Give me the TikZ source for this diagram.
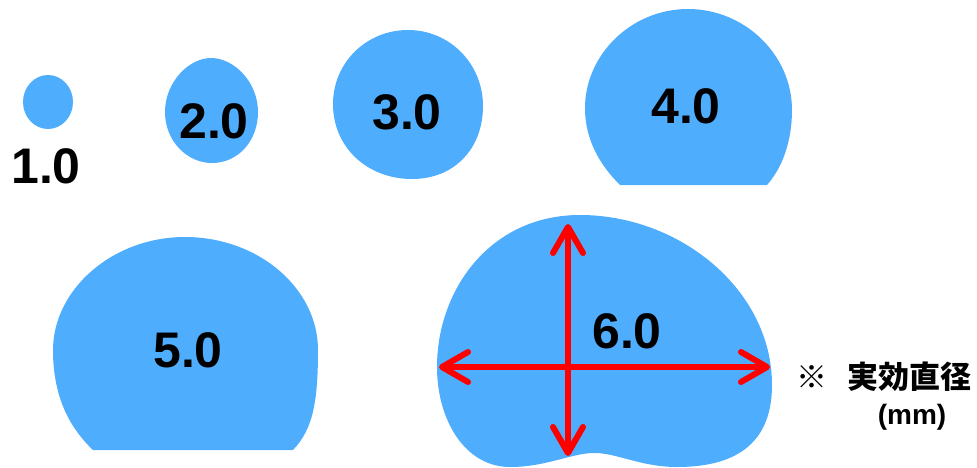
\documentclass[tikz,border=0pt]{standalone}
\usepackage{fontspec}
\setmainfont{Liberation Sans}
\newfontfamily\cjk{Noto Sans CJK JP}
\usetikzlibrary{arrows.meta}
\definecolor{cdrop}{HTML}{4FADFE}
\definecolor{cred}{HTML}{FF0000}
\tikzset{
  drop/.style={fill=cdrop},
  size/.style={font=\bfseries\fontsize{50}{50}\selectfont, inner sep=0pt},
  note/.style={font=\bfseries\fontsize{28}{28}\selectfont, inner sep=0pt},
  barb/.tip={Straight Barb[length=26pt, width=30pt, round]},
  dimarrow/.style={{barb}-{barb}, draw=cred, line width=6pt, line cap=round},
}

\begin{document}
\begin{tikzpicture}[x=1pt, y=-1pt]
  \useasboundingbox (0,0) rectangle (977,467);
  % drops, smallest to largest
  \fill[drop] (48,102) ellipse [x radius=25, y radius=27];
  \fill[drop] (211,58) .. controls (234,58) and (258,82) .. (258,112)
    .. controls (258,141) and (238,163) .. (212,163)
    .. controls (187,163) and (165,141) .. (165,112)
    .. controls (165,82) and (189,58) .. (211,58) -- cycle;
  \fill[drop] (408,30) .. controls (450,30) and (483,64) .. (483,106)
    .. controls (483,148) and (455,179) .. (412,179)
    .. controls (368,179) and (333,148) .. (333,104)
    .. controls (333,63) and (366,30) .. (408,30) -- cycle;
  \fill[drop] (620,185) -- (767,185) .. controls (783,167) and (792,140) .. (792,110)
    .. controls (792,55) and (745,9) .. (688,9)
    .. controls (631,9) and (585,55) .. (585,108)
    .. controls (585,140) and (600,165) .. (620,185) -- cycle;
  \fill[drop] (93,450) -- (293,450) .. controls (312,430) and (318,405) .. (318,350)
    .. controls (318,288) and (258,237) .. (185,237)
    .. controls (112,237) and (53,290) .. (53,350)
    .. controls (53,400) and (72,430) .. (93,450) -- cycle;
  \fill[drop] (437,367) .. controls (437,290) and (490,215) .. (580,215)
    .. controls (680,215) and (772,290) .. (772,385)
    .. controls (772,440) and (740,467) .. (677,467)
    .. controls (640,467) and (615,452) .. (592,453)
    .. controls (570,454) and (545,467) .. (510,467)
    .. controls (465,467) and (437,420) .. (437,367) -- cycle;

  \node[size] (d1) at (46,166) {1.0};
  \node[size] (d2) at (214,121) {2.0};
  \node[size] (d3) at (407,112) {3.0};
  \node[size] (d4) at (686,106) {4.0};
  \node[size] (d5) at (188,350) {5.0};
  \node[size] (d6) at (627,331) {6.0};

  \coordinate (hl) at (439,367);
  \coordinate (hr) at (770,367);
  \coordinate (vt) at (568,224);
  \coordinate (vb) at (568,456);
  \draw[dimarrow] (hl) -- (hr);
  \draw[dimarrow] (vt) -- (vb);

  \node[note, font=\bfseries\fontsize{31}{31}\selectfont] (nt) at (884,377) {\cjk ※\hspace{20pt}実効直径};
  \node[note] (nu) at (912,417) {(mm)};
\end{tikzpicture}
\end{document}
